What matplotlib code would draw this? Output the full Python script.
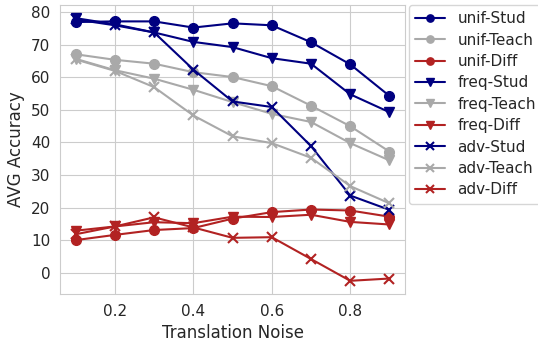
import numpy as np
import matplotlib
matplotlib.use('Agg')
import matplotlib.pyplot as plt
import seaborn as sns

noise = [0.1, 0.2, 0.3, 0.4, 0.5, 0.6, 0.7, 0.8, 0.9]

unif_stud = [77.0, 77.2, 77.2, 75.3, 76.6, 76.0, 70.8, 64.0, 54.3]
unif_teach = [67.1, 65.4, 64.2, 61.6, 60.1, 57.3, 51.3, 45.0, 37.2]
unif_diff = [10.0, 11.6, 13.1, 13.7, 16.6, 18.6, 19.4, 19.1, 17.2]

freq_stud = [78.2, 76.3, 73.8, 70.9, 69.3, 65.9, 64.2, 54.8, 49.3]
freq_teach = [65.7, 62.2, 59.6, 56.2, 52.4, 48.8, 46.3, 39.8, 34.5]
freq_diff = [12.9, 14.2, 15.5, 15.2, 17.2, 17.1, 17.8, 15.6, 14.8]

adv_stud = [77.8, 76.0, 73.8, 62.4, 52.6, 50.9, 38.9, 23.7, 19.3]
adv_teach = [65.5, 62.0, 57.0, 48.3, 41.9, 39.8, 35.3, 26.6, 21.3]
adv_diff = [11.8, 14.2, 17.0, 13.9, 10.7, 10.9, 4.2, -2.5, -1.8]

sns.set_style('whitegrid')
plt.rcParams['font.family'] = ['DejaVu Sans']

fig = plt.figure(figsize=(5.38, 3.45), dpi=100)
ax = fig.add_axes([0.1115, 0.148, 0.6415, 0.8375])

series = [
    ('unif-Stud', unif_stud, 'navy', 'o'),
    ('unif-Teach', unif_teach, 'darkgray', 'o'),
    ('unif-Diff', unif_diff, 'firebrick', 'o'),
    ('freq-Stud', freq_stud, 'navy', 'v'),
    ('freq-Teach', freq_teach, 'darkgray', 'v'),
    ('freq-Diff', freq_diff, 'firebrick', 'v'),
    ('adv-Stud', adv_stud, 'navy', 'x'),
    ('adv-Teach', adv_teach, 'darkgray', 'x'),
    ('adv-Diff', adv_diff, 'firebrick', 'x'),
]
for name, vals, col, mk in series:
    ax.plot(noise, vals, color=col, marker=mk, markersize=7, linewidth=1.5,
            label=name, markeredgewidth=1.5 if mk == 'x' else 1)

ax.set_yticks([0, 10, 20, 30, 40, 50, 60, 70, 80])
ax.set_xticks([0.2, 0.4, 0.6, 0.8])
ax.tick_params(labelsize=11, colors='#262626')
ax.set_xlabel('Translation Noise', fontsize=12, color='#262626')
ax.set_ylabel('AVG Accuracy', fontsize=12, color='#262626')
ax.legend(loc='upper left', bbox_to_anchor=(1.01, 1.0), fontsize=11,
          borderaxespad=0, handlelength=2, labelspacing=0.42, markerscale=0.75)

fig.savefig('out.png', dpi=100)
